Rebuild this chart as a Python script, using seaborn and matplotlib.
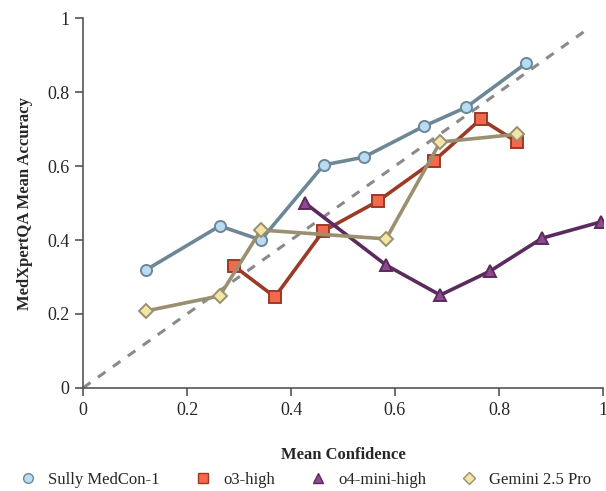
import matplotlib
matplotlib.use("Agg")
import matplotlib.pyplot as plt
from matplotlib.lines import Line2D
import seaborn as sns
import pandas as pd

sully_x = [0.121, 0.263, 0.342, 0.463, 0.540, 0.656, 0.737, 0.852]
sully_y = [0.319, 0.438, 0.400, 0.603, 0.624, 0.708, 0.759, 0.878]
o3_x = [0.290, 0.369, 0.462, 0.567, 0.675, 0.765, 0.835]
o3_y = [0.330, 0.246, 0.424, 0.505, 0.614, 0.727, 0.665]
o4_x = [0.427, 0.583, 0.687, 0.783, 0.883, 0.996]
o4_y = [0.500, 0.332, 0.251, 0.316, 0.405, 0.449]
gem_x = [0.121, 0.263, 0.342, 0.583, 0.687, 0.835]
gem_y = [0.208, 0.249, 0.427, 0.403, 0.665, 0.686]
diag = [0.0, 0.97]
ticks = [0, 0.2, 0.4, 0.6, 0.8, 1]
tick_labels = ["0", "0.2", "0.4", "0.6", "0.8", "1"]

series = [
    ("Sully MedCon-1", sully_x, sully_y, "o", "#6e8796", "#b7dcf3", "#6e8796", 8),
    ("o3-high", o3_x, o3_y, "s", "#9a3b28", "#f26a4b", "#9a3b28", 8),
    ("o4-mini-high", o4_x, o4_y, "^", "#5a2b5c", "#8f4a8f", "#5a2b5c", 8),
    ("Gemini 2.5 Pro", gem_x, gem_y, "D", "#9a9070", "#f3e5a6", "#9a9070", 7),
]

sns.set_theme(style="ticks")
plt.rcParams["font.family"] = ["Liberation Serif", "DejaVu Serif"]

fig = plt.figure(figsize=(6.06, 4.91), dpi=100)
ax = fig.add_axes([0.137, 0.21, 0.858, 0.753])

sns.lineplot(x=diag, y=diag, ax=ax, color="#8a8a8a", linestyle=(0, (3, 3)), linewidth=2.2)

handles = []
for name, xs, ys, mk, lc, fc, ec, ms in series:
    df = pd.DataFrame({"x": xs, "y": ys})
    sns.lineplot(data=df, x="x", y="y", ax=ax, sort=False, color=lc, linewidth=2.6,
                 marker=mk, markersize=ms, markerfacecolor=fc, markeredgecolor=ec,
                 markeredgewidth=1.4)
    handles.append(Line2D([], [], linestyle="none", marker=mk, markersize=ms - 1,
                          markerfacecolor=fc, markeredgecolor=ec, markeredgewidth=1.0,
                          label=name))

ax.set_xlim(0, 1)
ax.set_ylim(0, 1)
ax.set_xticks(ticks)
ax.set_xticklabels(tick_labels)
ax.set_yticks(ticks)
ax.set_yticklabels(tick_labels)
ax.tick_params(axis="both", labelsize=13, color="#555555", length=6, width=1.2, direction="out", pad=4)
for s in ["left", "bottom"]:
    ax.spines[s].set_color("#555555")
    ax.spines[s].set_linewidth(1.2)
sns.despine(ax=ax)
ax.set_xlabel("Mean Confidence", fontsize=12, fontweight="bold", labelpad=20)
ax.set_ylabel("MedXpertQA Mean Accuracy", fontsize=12, fontweight="bold", labelpad=10)

fig.legend(handles=handles, loc="center", bbox_to_anchor=(0.503, 0.023), ncol=4,
           frameon=False, fontsize=12, handlelength=1.2, handletextpad=0.6,
           columnspacing=2.0)

fig.savefig("out.png", dpi=100)
